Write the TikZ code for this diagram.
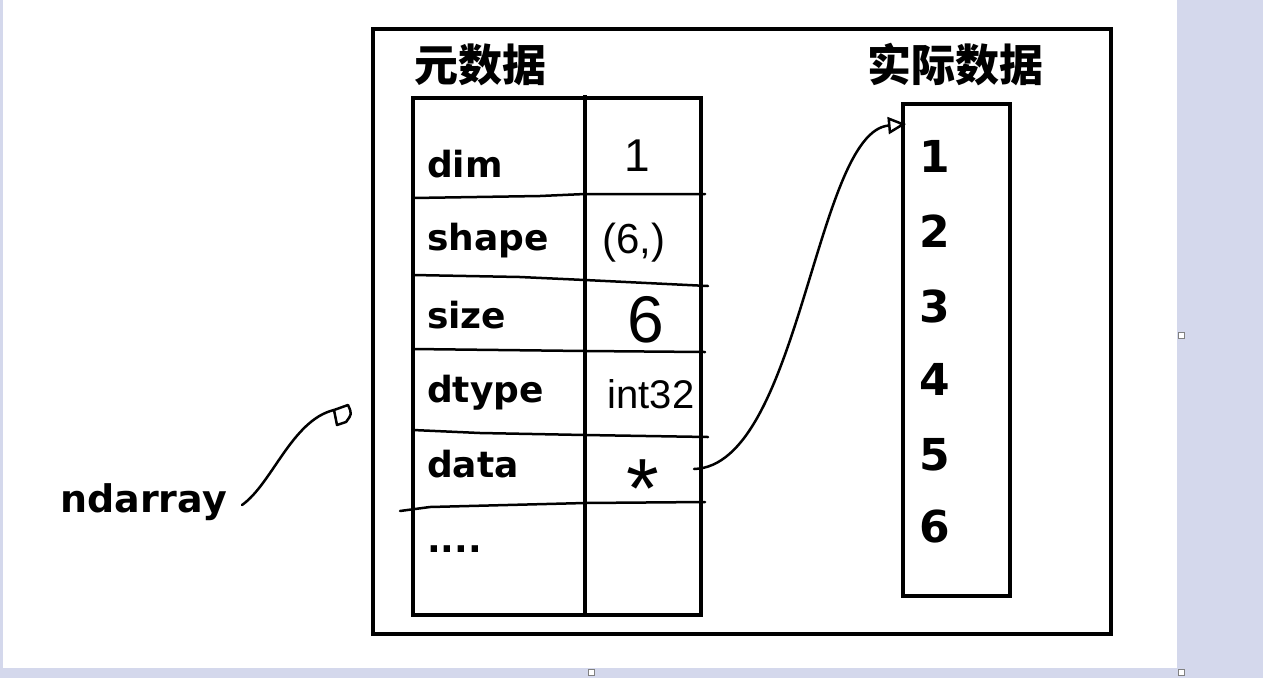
\documentclass[tikz,border=0pt]{standalone}
\usepackage{fontspec}
\newfontfamily\cjk{Noto Sans CJK SC}
\newfontfamily\latin{DejaVu Sans}
\newfontfamily\hand{Liberation Sans}
\usetikzlibrary{arrows.meta}
\definecolor{screen}{RGB}{212,216,236}

\begin{document}
\begin{tikzpicture}[x=1pt, y=-1pt,
    title/.style={font=\cjk\bfseries\fontsize{44}{44}\selectfont, anchor=base west, inner sep=0pt},
    lbl/.style={font=\latin\bfseries\fontsize{36}{36}\selectfont, anchor=base west, inner sep=0pt},
    num/.style={font=\latin\bfseries\fontsize{44}{44}\selectfont, anchor=base west, inner sep=0pt},
    val/.style={font=\hand\fontsize{42}{42}\selectfont, anchor=base, inner sep=0pt},
    box/.style={line width=4pt},
    pen/.style={line width=2.5pt, line cap=round, line join=round}]
    \useasboundingbox (0,0) rectangle (1263,678);
    % screen edges
    \fill[screen] (1177,0) rectangle (1263,678);
    \fill[screen] (0,668) rectangle (1177,678);
    \fill[screen] (0,0) rectangle (3,668);
    \foreach \hx/\hy in {1181/335, 1181/672, 591/672}
        \draw[gray, fill=white, line width=0.8pt] (\hx-3,\hy-3) rectangle (\hx+3,\hy+3);
    
    % outer frame
    \draw[box] (373,29) rectangle (1111,634);
    \node[title] (meta) at (414,81) {元数据};
    \node[title] (real) at (867,81) {实际数据};
    
    % metadata table
    \draw[box] (413,98) rectangle (701,615);
    \draw[box] (585,95) -- (585,617);
    \draw[pen] (413,198) -- (540,196) -- (585,194) -- (705,194);
    \draw[pen] (413,275) -- (520,277) -- (585,280) -- (708,286);
    \draw[pen] (413,349) -- (585,351) -- (705,352);
    \draw[pen] (413,430) -- (480,433) -- (585,435) -- (708,437);
    \draw[pen] (400,511) -- (430,507) -- (585,503) -- (705,502);
    \foreach \name/\ty in {dim/177, shape/250, size/328, dtype/402, data/477}
        \node[lbl] (\name) at (427,\ty) {\name};
    \node[lbl] (more) at (427,552) {....};
    
    % handwritten values
    \node[val, font=\hand\fontsize{46}{46}\selectfont] (vdim) at (637,171) {1};
    \node[val] (vshape) at (634,253) {(6,)};
    \node[val, font=\hand\fontsize{66}{66}\selectfont] (vsize) at (646,342) {6};
    \node[val, font=\hand\fontsize{40}{40}\selectfont] (vdtype) at (651,408) {int32};
    \node[val, font=\hand\fontsize{84}{84}\selectfont] (vdata) at (643,517) {*};
    
    % actual data
    \draw[box] (903,104) rectangle (1010,596);
    \foreach \i/\ty in {1/172, 2/247, 3/322, 4/395, 5/470, 6/542}
        \node[num] (n\i) at (919,\ty) {\i};
    
    % data pointer
    \coordinate (ptrfrom) at (694,469);
    \coordinate (ptrto) at (906,124);
    \draw[pen, -{Triangle[open, length=18pt, width=17pt, line width=2.5pt]}]
        (ptrfrom) .. controls (800,466) and (815,132) .. (ptrto);
    
    % ndarray
    \node[font=\latin\bfseries\fontsize{38}{38}\selectfont, anchor=base west, inner sep=0pt] (ndarr) at (60,512) {ndarray};
    \coordinate (ndfrom) at (242,505);
    \coordinate (ndto) at (334,410);
    \draw[pen] (ndfrom) .. controls (272,484) and (292,420) .. (ndto);
    \draw[pen] (ndto) -- (348,405) .. controls (352,414) .. (346,422) -- (337,425) -- cycle;
\end{tikzpicture}
\end{document}
